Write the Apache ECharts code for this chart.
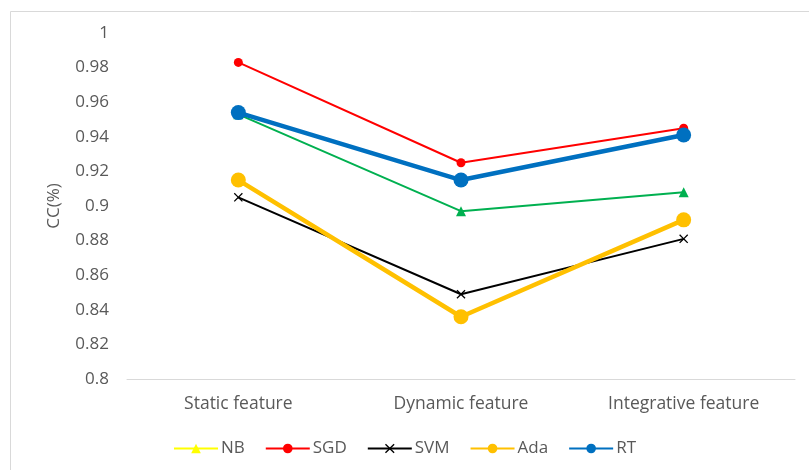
<!DOCTYPE html>
<html>
<head>
<meta charset="utf-8">
<script src="https://cdn.jsdelivr.net/npm/echarts@6/dist/echarts.min.js"></script>
<style>
  html, body { margin: 0; padding: 0; background: #fff; }
  #chart { width: 809px; height: 470px; }
</style>
</head>
<body>
<div id="chart"></div>
<script>
// Feature sets on the x axis
const categories = ['Static feature', 'Dynamic feature', 'Integrative feature'];

// CC values per classifier
const nbValues  = [0.953, 0.897, 0.908];
const sgdValues = [0.983, 0.925, 0.945];
const svmValues = [0.905, 0.849, 0.881];
const adaValues = [0.915, 0.836, 0.892];
const rtValues  = [0.954, 0.915, 0.941];

// Y axis ticks
const yMin = 0.8, yMax = 1.0, yStep = 0.02;

const FONT = 'Open Sans';
const TEXT = '#595959';
const crossPath = 'path://M0,1L1,0L5,4L9,0L10,1L6,5L10,9L9,10L5,6L1,10L0,9L4,5Z';

function lineSeries(name, data, color, width, symbol, size) {
  return {
    name: name,
    type: 'line',
    data: data,
    symbol: symbol,
    symbolSize: size,
    showAllSymbol: true,
    lineStyle: { color: color, width: width },
    itemStyle: { color: color },
    emphasis: { disabled: true }
  };
}

const chart = echarts.init(document.getElementById('chart'), null, { renderer: 'canvas' });
chart.setOption({
  animation: false,
  backgroundColor: '#fff',
  textStyle: { fontFamily: FONT, color: TEXT },
  graphic: [{
    type: 'rect',
    shape: { x: 10.5, y: 11.5, width: 830, height: 490 },
    style: { fill: 'none', stroke: '#D9D9D9', lineWidth: 1 },
    silent: true
  }],
  grid: { left: 127, right: 14, top: 33, bottom: 91, containLabel: false },
  legend: {
    bottom: 8,
    left: 'center',
    itemWidth: 44,
    itemHeight: 12,
    itemGap: 20,
    textStyle: { fontFamily: FONT, fontSize: 17, color: TEXT, padding: [0, 0, 0, -2] },
    data: [
      { name: 'NB', itemStyle: { color: '#FFFF00' }, lineStyle: { color: '#FFFF00', width: 2 } },
      { name: 'SGD' },
      { name: 'SVM' },
      { name: 'Ada' },
      { name: 'RT' }
    ]
  },
  xAxis: {
    type: 'category',
    data: categories,
    boundaryGap: true,
    axisLine: { lineStyle: { color: '#D9D9D9', width: 1 } },
    axisTick: { show: false },
    axisLabel: { fontFamily: FONT, fontSize: 17.5, color: TEXT, margin: 16 }
  },
  yAxis: {
    type: 'value',
    min: yMin,
    max: yMax,
    interval: yStep,
    name: 'CC(%)',
    nameLocation: 'middle',
    nameGap: 64,
    nameRotate: 90,
    nameTextStyle: { fontFamily: FONT, fontSize: 17, color: TEXT },
    axisLine: { show: false },
    axisTick: { show: false },
    splitLine: { show: false },
    axisLabel: {
      fontFamily: FONT, fontSize: 17, color: TEXT, margin: 18,
      formatter: v => String(parseFloat(v.toFixed(2)))
    }
  },
  series: [
    lineSeries('NB',  nbValues,  '#00B050', 2,   'triangle', 10),
    lineSeries('SGD', sgdValues, '#FF0000', 2,   'circle',   9),
    lineSeries('SVM', svmValues, '#000000', 2,   crossPath,  9),
    lineSeries('Ada', adaValues, '#FFC000', 4.5, 'circle',   15),
    lineSeries('RT',  rtValues,  '#0070C0', 4.5, 'circle',   15)
  ]
});
</script>
</body>
</html>
